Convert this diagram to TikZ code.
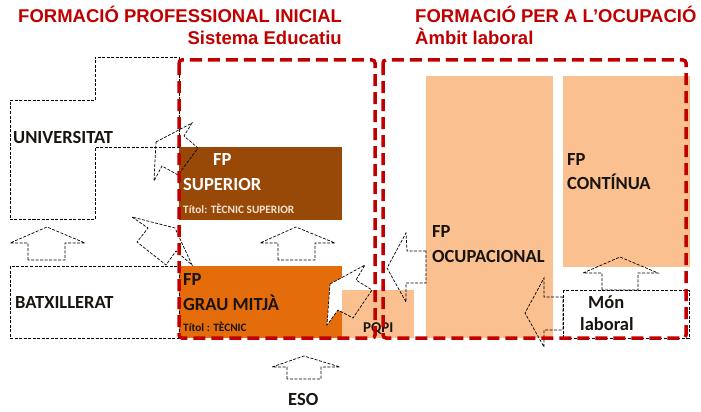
\documentclass[tikz,border=0pt]{standalone}
\usepackage{fontspec}
\setmainfont{Carlito}
\newfontfamily\headfont{Liberation Sans}
\usepackage{tikz}
\definecolor{redline}{RGB}{192,0,0}
\definecolor{brownfp}{RGB}{152,72,7}
\definecolor{orangefp}{RGB}{228,108,10}
\definecolor{lightfp}{RGB}{250,192,144}
\definecolor{darktext}{RGB}{25,20,15}
\definecolor{titoltext}{RGB}{245,228,210}
\tikzset{
  label/.style={
    inner sep=0pt,
    anchor=base west,
    text=darktext,
    font=\bfseries\fontsize{18.5}{20}\selectfont},
  small label/.style={label, font=\bfseries\fontsize{11.3}{13}\selectfont},
  head/.style={
    inner sep=0pt,
    anchor=base west,
    text=redline,
    font=\headfont\bfseries\fontsize{18.5}{20}\selectfont},
}

\begin{document}
\begin{tikzpicture}[
    x=1pt, y=-1pt,
    frame/.style={draw=redline, line width=3.5pt, dash pattern=on 12pt off 6pt,
    rounded corners=3pt},
    level box/.style={draw=black, line width=0.7pt, dash pattern=on 3pt off 1.5pt},
    block arrow/.style={level box, line join=miter}
    ]
    \useasboundingbox (0,0) rectangle (701,412);

    %titles
    \node[head] (fpi) at (18,23) {FORMACIÓ PROFESSIONAL INICIAL};
    \node[head, anchor=base east] (sisted) at (342,45) {Sistema Educatiu};
    \node[head] (fpo) at (415,23) {FORMACIÓ PER A L’OCUPACIÓ};
    \node[head] (ambit) at (415,45) {Àmbit laboral};

    %coloured boxes
    \fill[brownfp] (179,147) rectangle (342,220);
    \fill[orangefp] (179,266) rectangle (342,338);
    \fill[white] (330,284) -- (365,265) -- (356,280) -- (372,290) -- (353,318)
    -- (338,310) -- (327,325) -- cycle;
    \fill[lightfp] (342,290) rectangle (414,338);
    \fill[lightfp] (426,76) rectangle (553,338);
    \fill[lightfp] (563,76) rectangle (690,267);

    %dashed boxes
    \draw[level box] (10,100) -- (95,100) -- (95,57) -- (179,57) -- (179,147)
    -- (95,147) -- (95,219) -- (10,219) -- cycle;
    \draw[level box] (10,266) rectangle (179,338);
    \draw[level box] (563,290) rectangle (689,338);

    %up arrows
    \draw[block arrow] (28,260) -- (28,243) -- (10,243) -- (47,227) -- (85,243)
    -- (65,243) -- (65,260) -- cycle;
    \draw[block arrow] (278,260) -- (278,243) -- (260,243) -- (296,227) -- (335,243)
    -- (315,243) -- (315,260) -- cycle;
    \draw[block arrow] (287,379) -- (287,367) -- (272,367) -- (304,356) -- (340,367)
    -- (321,367) -- (321,379) -- cycle;
    \draw[block arrow] (602,290) -- (602,273) -- (583,273) -- (620,257) -- (658,273)
    -- (638,273) -- (638,290) -- cycle;

    %left arrows
    \draw[block arrow] (563,297) -- (544,297) -- (544,278) -- (525,313) -- (544,347)
    -- (544,330) -- (563,330) -- cycle;
    \draw[block arrow] (426,251) -- (407,251) -- (406,233) -- (387,268) -- (406,302)
    -- (406,283) -- (426,283) -- cycle;

    %bent arrows
    \draw[block arrow] (330,284) -- (365,265) -- (356,280) -- (372,290) -- (353,318)
    -- (338,310) -- (327,325) -- cycle;
    \draw[block arrow] (156,142) -- (192,123) -- (184,136) -- (198,148) -- (178,175)
    -- (162,166) -- (154,181) -- cycle;
    \draw[block arrow] (132,217) -- (148,228) -- (137,242) -- (166,265) -- (176,251)
    -- (192,265) -- (175,228) -- cycle;

    %texts
    \node[label] (univ) at (13,143) {UNIVERSITAT};
    \node[label] (batx) at (15,308) {BATXILLERAT};
    \node[label, text=white] (supfp) at (213,165) {FP};
    \node[label, text=white] (sup) at (183,190) {SUPERIOR};
    \node[small label, text=titoltext] (suptitol) at (183,213.5) {Títol: TÈCNIC SUPERIOR};
    \node[label] (mitfp) at (183,285) {FP};
    \node[label] (mit) at (183,310) {GRAU MITJÀ};
    \node[small label] (mittitol) at (183,331.5) {Títol : TÈCNIC};
    \node[label, font=\bfseries\fontsize{15}{17}\selectfont] (pqpi) at (363,332) {PQPI};
    \node[label] (ocupfp) at (432,237) {FP};
    \node[label] (ocup) at (432,262) {OCUPACIONAL};
    \node[label] (contfp) at (567,165) {FP};
    \node[label] (cont) at (567,189) {CONTÍNUA};
    \node[label] (mon) at (588,308) {Món};
    \node[label] (lab) at (580,330.5) {laboral};
    \node[label] (eso) at (288,405) {ESO};

    %frames
    \draw[frame] (179,60) rectangle (375,338);
    \draw[frame] (383,60) rectangle (686,338);

\end{tikzpicture}
\end{document}
